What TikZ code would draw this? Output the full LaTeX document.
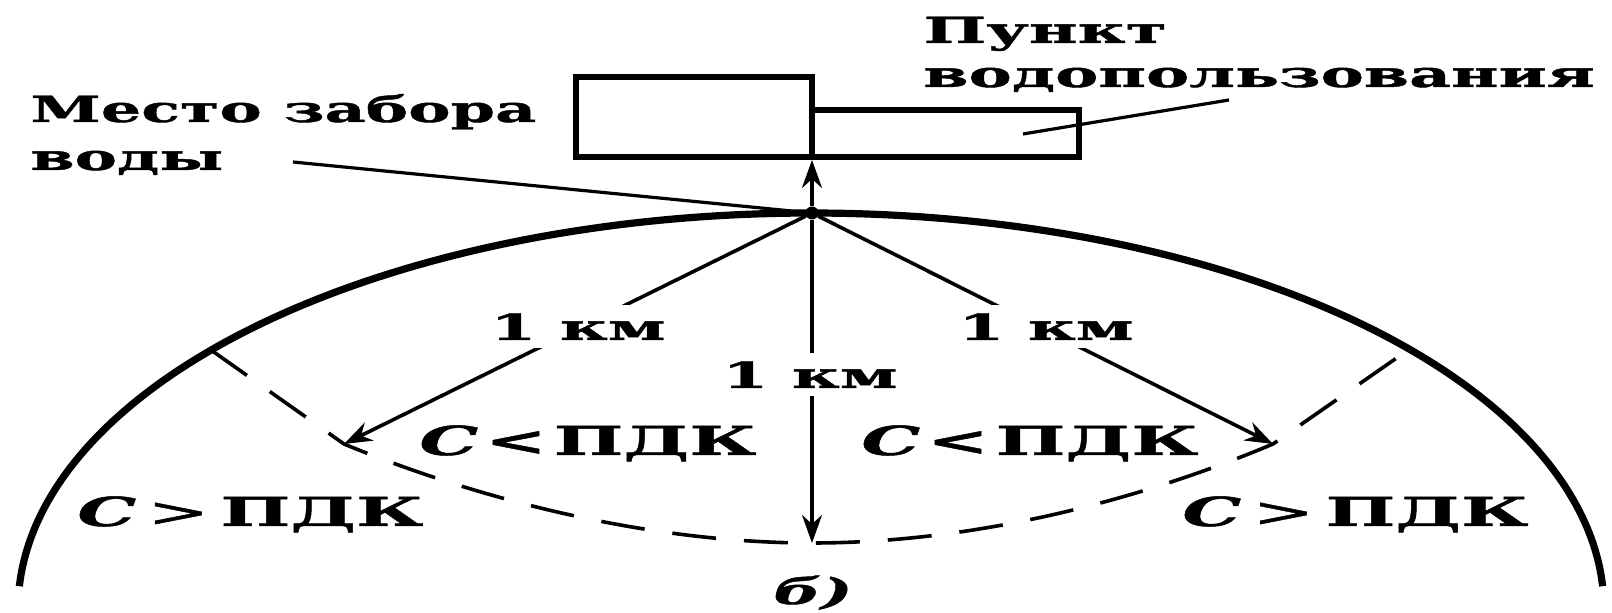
\documentclass[tikz,border=0pt]{standalone}
\usepackage{fontspec}
\setmainfont{DejaVu Serif}
\newfontfamily\wide{DejaVu Serif}[FakeStretch=1.85, FakeBold=1.2]
\usetikzlibrary{arrows.meta}

\begin{document}
\begin{tikzpicture}[x=0.5pt, y=-0.5pt,
  txt/.style={inner sep=0pt, font=\wide\bfseries\fontsize{18}{22}\selectfont},
  big/.style={inner sep=0pt, font=\wide\bfseries\fontsize{20}{24}\selectfont},
  dist/.style={txt, fill=white, inner xsep=3pt, inner ysep=4pt},
  box/.style={draw, line width=3pt, inner sep=0pt, outer sep=0pt},
  rim/.style={line width=3.6pt},
  zone/.style={line width=1.8pt, dash pattern=on 22pt off 14pt},
  ray/.style={line width=1.8pt, -{Stealth[length=14pt, width=10pt]}},
  leader/.style={line width=1.6pt}]

  % frame of the picture
  \useasboundingbox (0,0) rectangle (1612,613);

  % water use point: two joined rectangles
  \node[box, minimum width=118pt, minimum height=40pt] (house) at (694,117) {};
  \node[box, minimum width=133.5pt, minimum height=23.5pt] (annex) at (945.5,133.5) {};

  % shore line
  \draw[rim] plot[domain=183.3:356.7, samples=120, smooth]
    ({811+793*cos(\x)}, {609+396*sin(\x)});

  % intake point
  \node[circle, fill, inner sep=0pt, minimum size=6.5pt] (P) at (812,213) {};

  % ends of the 1 km rays
  \coordinate (L0) at (211,350);
  \coordinate (TL) at (344,444);
  \coordinate (B)  at (812,543);
  \coordinate (TR) at (1273,444);
  \coordinate (R0) at (1411,348);

  % 1 km boundary
  \draw[zone] (L0) -- (TL) .. controls (480,500) and (650,543) .. (B)
              .. controls (975,543) and (1140,500) .. (TR) -- (R0);

  % rays
  \draw[ray] (P) -- (TL);
  \draw[ray] (P) -- (TR);
  \draw[ray] (P) -- (B);
  \draw[ray, shorten >=1.5pt] (P) -- (house.south east);

  % leaders
  \coordinate (lw) at (293,162);
  \draw[leader] (lw) -- (P);
  \coordinate (lu1) at (1023,134);
  \coordinate (lu2) at (1229,100);
  \draw[leader] (lu1) -- (lu2);

  % distance labels
  \node[dist, anchor=base] (dl) at (578,340) {1 км};
  \node[dist, anchor=base] (dm) at (810,388) {1 км};
  \node[dist, anchor=base] (dr) at (1046,340) {1 км};

  % concentration zones
  \node[big, anchor=base west] (cl1) at (419,455) {{\itshape C}\,<\,ПДК};
  \node[big, anchor=base west] (cl2) at (861,455) {{\itshape C}\,<\,ПДК};
  \node[big, anchor=base west] (cg1) at (77,526) {{\itshape C}\;{\mdseries >}\;ПДК};
  \node[big, anchor=base west] (cg2) at (1182,526) {{\itshape C}\;{\mdseries >}\;ПДК};

  % captions
  \node[txt, anchor=base west] (t1) at (30,122) {\scalebox{0.955}[1]{Место забора}};
  \node[txt, anchor=base west] (t2) at (30,170) {\scalebox{0.955}[1]{воды}};
  \node[txt, anchor=base west] (t3) at (923,43) {Пункт};
  \node[txt, anchor=base west] (t4) at (923,87) {\scalebox{0.975}[1]{водопользования}};
  \node[txt, anchor=base] (sub) at (813,604) {\itshape б)};
\end{tikzpicture}
\end{document}
